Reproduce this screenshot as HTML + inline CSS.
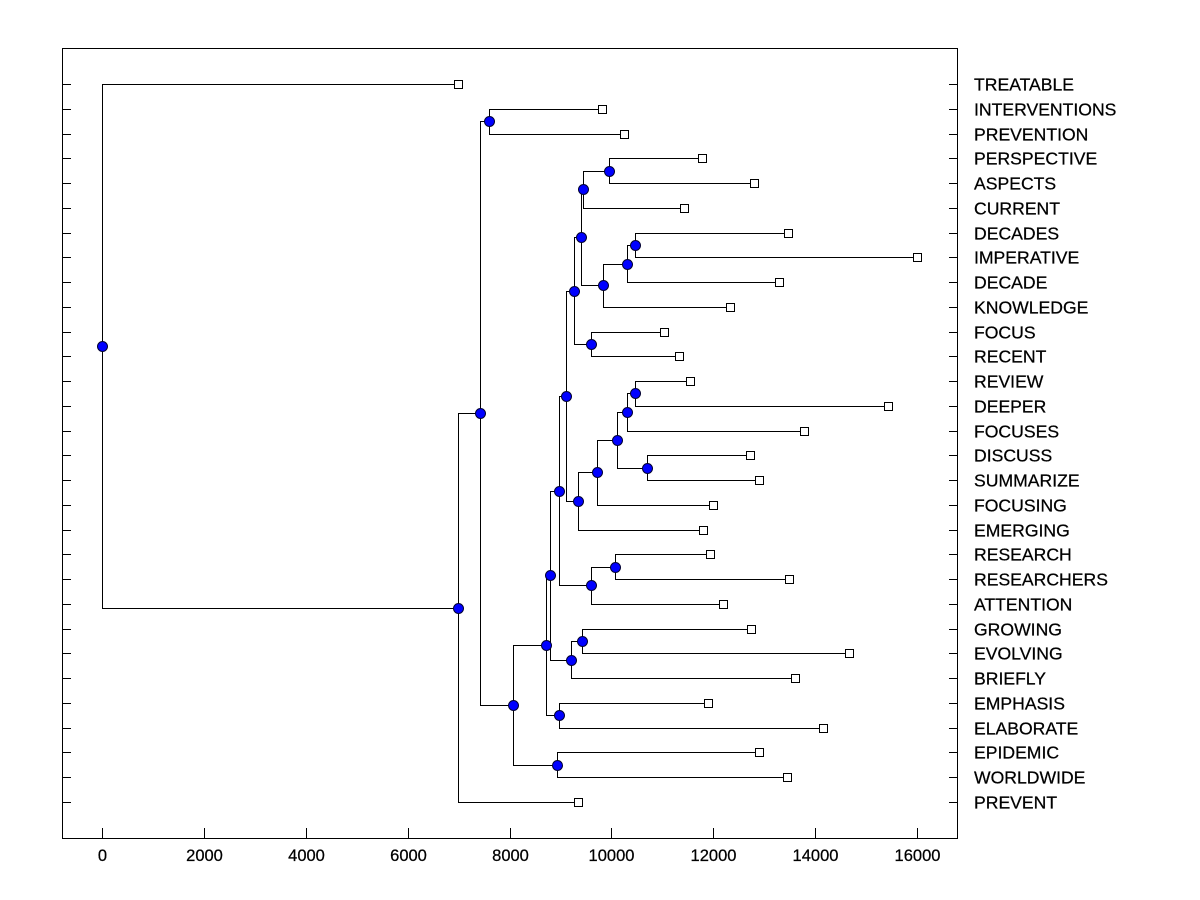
<!DOCTYPE html>
<html><head><meta charset="utf-8">
<style>
html,body{margin:0;padding:0;background:#fff;}
svg{display:block;font-family:"Liberation Sans",Arial,sans-serif;}
</style></head>
<body>
<svg id="chart" width="1200" height="900" xmlns="http://www.w3.org/2000/svg">
<rect x="0" y="0" width="1200" height="900" fill="#fff"/>
<g id="frame"></g>
<g id="links"></g>
<g id="marks"></g>
<g id="labels"></g>
</svg>
<script>
const leafNames = ["TREATABLE","INTERVENTIONS","PREVENTION","PERSPECTIVE","ASPECTS","CURRENT","DECADES","IMPERATIVE","DECADE","KNOWLEDGE","FOCUS","RECENT","REVIEW","DEEPER","FOCUSES","DISCUSS","SUMMARIZE","FOCUSING","EMERGING","RESEARCH","RESEARCHERS","ATTENTION","GROWING","EVOLVING","BRIEFLY","EMPHASIS","ELABORATE","EPIDEMIC","WORLDWIDE","PREVENT"];
const leafValues = [6989,9816,10248,11779,12800,11426,13467,16000,13291,12329,11033,11327,11543,15430,13782,12721,12898,11995,11799,11936,13487,12191,12741,14665,13605,11897,14155,12898,13448,9345];
// internal nodes: id, childA, childB (leaf names or node ids)
const nodeIds = ["root","N1","N2","N3","X","V","S","P","I","G","C","B","A","D","F","E","H","J","O","M","L","K","N","Q","R","T","U","W","Y"];
const nodeChildA = ["TREATABLE","N2","N3","INTERVENTIONS","V","S","P","I","G","C","B","A","PERSPECTIVE","F","E","DECADES","FOCUS","O","M","L","K","REVIEW","DISCUSS","R","RESEARCH","U","GROWING","EMPHASIS","EPIDEMIC"];
const nodeChildB = ["N1","PREVENT","X","PREVENTION","Y","W","T","Q","J","H","D","CURRENT","ASPECTS","KNOWLEDGE","DECADE","IMPERATIVE","RECENT","EMERGING","FOCUSING","N","FOCUSES","DEEPER","SUMMARIZE","ATTENTION","RESEARCHERS","BRIEFLY","EVOLVING","ELABORATE","WORLDWIDE"];
const nodeHeights = [0,6989,7421,7598,8069,8717,8795,8972,9109,9266,9403,9443,9953,9835,10306,10463,9600,9344,9717,10110,10306,10463,10698,9600,10071,9207,9423,8972,8932];
const xTicks = [0,2000,4000,6000,8000,10000,12000,14000,16000];

const NS="http://www.w3.org/2000/svg";
const L=62,R=958,T=48,B=838;
const xs=v=>102+v*(815/16000);
const rowY=i=>84+i*((802-84)/29);
function mk(tag,attrs,parent){const e=document.createElementNS(NS,tag);for(const k in attrs)e.setAttribute(k,attrs[k]);parent.appendChild(e);return e;}
const frame=document.getElementById('frame'),links=document.getElementById('links'),marks=document.getElementById('marks'),labels=document.getElementById('labels');

const f=mk('rect',{x:L+0.5,y:T+0.5,width:R-L-1,height:B-T,fill:'none',stroke:'#000','stroke-width':1},frame);


xTicks.forEach(v=>{
  const x=Math.round(xs(v))+0.5;
  const t=mk('line',{x1:x,y1:B,x2:x,y2:B-10,stroke:'#000'},frame);
  
  
  const tl=mk('text',{x:x,y:B+23,'text-anchor':'middle','font-size':16.5,fill:'#000','stroke':'#000','stroke-width':0.25},labels);
  tl.textContent=String(v);
  
  
});
leafNames.forEach((n,i)=>{
  const y=Math.round(rowY(i))+0.5;
  const a=mk('line',{x1:L,y1:y,x2:L+9,y2:y,stroke:'#000'},frame);
  
  
  const b=mk('line',{x1:R-9,y1:y,x2:R,y2:y,stroke:'#000'},frame);
  
  
  const t=mk('text',{x:974,y:y+6,'font-size':17.6,fill:'#000','stroke':'#000','stroke-width':0.25},labels);
  t.textContent=n;
  
  
});

const pos={};
leafNames.forEach((n,i)=>{pos[n]={x:xs(leafValues[i]),y:rowY(i)};});
function getPos(id){
  if(pos[id])return pos[id];
  const k=nodeIds.indexOf(id);
  const a=getPos(nodeChildA[k]),b=getPos(nodeChildB[k]);
  pos[id]={x:xs(nodeHeights[k]),y:(a.y+b.y)/2};
  return pos[id];
}
nodeIds.forEach(getPos);
nodeIds.forEach((id,k)=>{
  const p=pos[id],a=pos[nodeChildA[k]],b=pos[nodeChildB[k]];
  const px=Math.round(p.x)+0.5;
  const d=`M${Math.round(a.x)+0.5},${Math.round(a.y)+0.5}H${px}V${Math.round(b.y)+0.5}H${Math.round(b.x)+0.5}`;
  const l=mk('path',{d:d,fill:'none',stroke:'#000','stroke-width':1},links);
  
  
});
leafNames.forEach(n=>{
  const p=pos[n];
  const s=mk('rect',{x:Math.round(p.x)-4+0.5,y:Math.round(p.y)-4+0.5,width:8,height:8,fill:'#fff',stroke:'#000'},marks);
  
  
});
nodeIds.forEach(id=>{
  const p=pos[id];
  const c=mk('circle',{cx:Math.round(p.x)+0.5,cy:Math.round(p.y)+0.5,r:5,fill:'#0000ff',stroke:'#000033','stroke-width':1},marks);
  
  
});
</script>
</body></html>
